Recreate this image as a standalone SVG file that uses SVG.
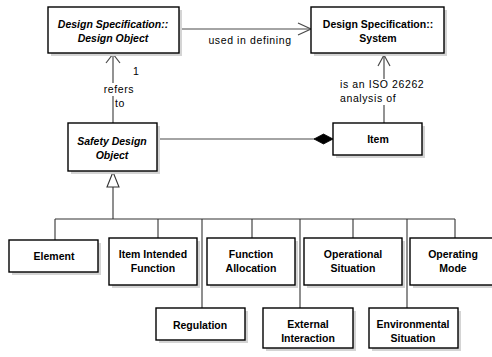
<svg xmlns="http://www.w3.org/2000/svg" width="492" height="357" viewBox="0 0 492 357">
  <style>
    .box { fill: #ffffff; stroke: #000000; stroke-width: 1.4; }
    .shadow { fill: #d4d4d4; }
    .name { font-family: "Liberation Sans", Arial, sans-serif; font-size: 10.5px; font-weight: bold; fill: #000000; text-anchor: middle; }
    .abstract { font-style: italic; }
    .label { font-family: "Liberation Sans", Arial, sans-serif; font-size: 10.5px; fill: #000000; letter-spacing: 0.6px; }
    .conn { fill: none; stroke: #4a4a4a; stroke-width: 1.2; }
    .tree { fill: none; stroke: #333333; stroke-width: 1.1; }
  </style>

  <!-- connectors -->
  <g id="connectors">
    <!-- used in defining -->
    <line class="conn" x1="179" y1="29" x2="311" y2="29"/>
    <polyline class="conn" points="298,23 311,29 298,35"/>
    <text class="label" x="250" y="44" text-anchor="middle">used in defining</text>

    <!-- refers to -->
    <line class="conn" x1="113" y1="54" x2="113" y2="123"/>
    <polyline class="conn" points="106,63 113,54 120,63"/>
    <rect x="103" y="83" width="34" height="13" fill="#ffffff"/>
    <text class="label" x="133" y="75">1</text>
    <text class="label" x="119" y="93" text-anchor="middle">refers</text>
    <text class="label" x="115" y="107">to</text>

    <!-- is an ISO 26262 analysis of -->
    <line class="conn" x1="384" y1="55" x2="384" y2="123"/>
    <polyline class="conn" points="378,66 384,55 390,66"/>
    <rect x="338" y="79" width="88" height="26" fill="#ffffff"/>
    <text class="label" x="340" y="88">is an ISO 26262</text>
    <text class="label" x="340" y="102">analysis of</text>

    <!-- composition -->
    <line class="conn" x1="157" y1="139" x2="315" y2="139"/>
    <polygon points="314,139 323.5,134 333,139 323.5,144" fill="#000000" stroke="#000000" stroke-width="0.8"/>

    <!-- generalization tree -->
    <polygon points="113,172 107,187 119,187" fill="#ffffff" stroke="#333333" stroke-width="1.1"/>
    <line class="tree" x1="113" y1="187" x2="113" y2="219"/>
    <line class="tree" x1="55" y1="219" x2="455" y2="219"/>
    <line class="tree" x1="55" y1="219" x2="55" y2="240"/>
    <line class="tree" x1="158" y1="219" x2="158" y2="238"/>
    <line class="tree" x1="202" y1="219" x2="202" y2="308"/>
    <line class="tree" x1="252" y1="219" x2="252" y2="238"/>
    <line class="tree" x1="300" y1="219" x2="300" y2="308"/>
    <line class="tree" x1="353" y1="219" x2="353" y2="238"/>
    <line class="tree" x1="407" y1="219" x2="407" y2="308"/>
    <line class="tree" x1="455" y1="219" x2="455" y2="238"/>
  </g>

  <g id="design-object">
    <rect class="shadow" x="51" y="10" width="131" height="46"/>
    <rect class="box" x="48" y="7" width="131" height="46"/>
    <text class="name abstract" x="113" y="28">Design Specification::</text>
    <text class="name abstract" x="113" y="42">Design Object</text>
  </g>

  <g id="system">
    <rect class="shadow" x="314" y="10" width="133" height="46"/>
    <rect class="box" x="311" y="7" width="133" height="46"/>
    <text class="name" x="378" y="28">Design Specification::</text>
    <text class="name" x="378" y="42">System</text>
  </g>

  <g id="safety-design-object">
    <rect class="shadow" x="71" y="126" width="89" height="48"/>
    <rect class="box" x="68" y="123" width="89" height="48"/>
    <text class="name abstract" x="112" y="145">Safety Design</text>
    <text class="name abstract" x="112" y="159">Object</text>
  </g>

  <g id="item">
    <rect class="shadow" x="336" y="126" width="89" height="32"/>
    <rect class="box" x="333" y="123" width="89" height="32"/>
    <text class="name" x="378" y="143">Item</text>
  </g>

  <g id="element">
    <rect class="shadow" x="12" y="243" width="89" height="32"/>
    <rect class="box" x="9" y="240" width="89" height="32"/>
    <text class="name" x="54" y="260">Element</text>
  </g>

  <g id="item-intended-function">
    <rect class="shadow" x="112" y="241" width="88" height="47"/>
    <rect class="box" x="109" y="238" width="88" height="47"/>
    <text class="name" x="153" y="258">Item Intended</text>
    <text class="name" x="153" y="272">Function</text>
  </g>

  <g id="function-allocation">
    <rect class="shadow" x="210" y="241" width="88" height="47"/>
    <rect class="box" x="207" y="238" width="88" height="47"/>
    <text class="name" x="251" y="258">Function</text>
    <text class="name" x="251" y="272">Allocation</text>
  </g>

  <g id="operational-situation">
    <rect class="shadow" x="307" y="241" width="98" height="47"/>
    <rect class="box" x="304" y="238" width="98" height="47"/>
    <text class="name" x="353" y="258">Operational</text>
    <text class="name" x="353" y="272">Situation</text>
  </g>

  <g id="operating-mode">
    <rect class="shadow" x="413" y="241" width="88" height="47"/>
    <rect class="box" x="410" y="238" width="88" height="47"/>
    <text class="name" x="453" y="258">Operating</text>
    <text class="name" x="453" y="272">Mode</text>
  </g>

  <g id="regulation">
    <rect class="shadow" x="159" y="311" width="89" height="32"/>
    <rect class="box" x="156" y="308" width="89" height="32"/>
    <text class="name" x="200" y="329">Regulation</text>
  </g>

  <g id="external-interaction">
    <rect class="shadow" x="266" y="311" width="90" height="40"/>
    <rect class="box" x="263" y="308" width="90" height="40"/>
    <text class="name" x="308" y="328">External</text>
    <text class="name" x="308" y="342">Interaction</text>
  </g>

  <g id="environmental-situation">
    <rect class="shadow" x="372" y="311" width="89" height="40"/>
    <rect class="box" x="369" y="308" width="89" height="40"/>
    <text class="name" x="413" y="328">Environmental</text>
    <text class="name" x="413" y="342">Situation</text>
  </g>
</svg>
